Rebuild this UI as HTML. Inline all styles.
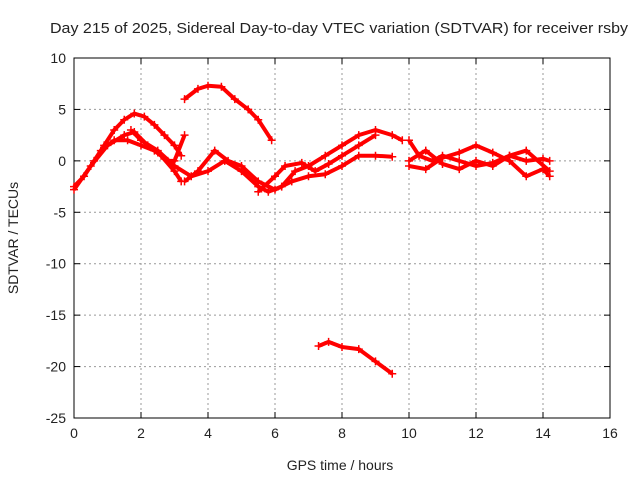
<!DOCTYPE html>
<html><head><meta charset="utf-8"><style>
body{margin:0;background:#fff;}
svg text{font-family:"Liberation Sans",sans-serif;font-size:14px;fill:#222;}
</style></head><body>
<svg id="chart" width="640" height="480" xmlns="http://www.w3.org/2000/svg">
<rect width="640" height="480" fill="#fff"/>
<text x="339" y="33" text-anchor="middle" textLength="578" lengthAdjust="spacingAndGlyphs" style="font-size:15px">Day 215 of 2025, Sidereal Day-to-day VTEC variation (SDTVAR) for receiver rsby</text>
<text x="340" y="470" text-anchor="middle">GPS time / hours</text>
<text x="18" y="238" text-anchor="middle" transform="rotate(-90 18 238)">SDTVAR / TECUs</text>
<g id="grid"></g>
<g id="axes"></g>
<g id="series"></g>
</svg>
<script>
const xTicks=[0,2,4,6,8,10,12,14,16];
const yTicks=[10,5,0,-5,-10,-15,-20,-25];
const trackA=[[0,-2.5],[0.3,-1.5],[0.6,0],[0.9,1.5],[1.2,3],[1.5,4],[1.8,4.6],[2.1,4.3],[2.4,3.5],[2.7,2.5],[3.0,1.5],[3.2,0.5]];
const trackB=[[0,-2.8],[0.5,-0.5],[1,1.5],[1.5,2.5],[1.8,2.8],[2.2,1.5],[2.6,0.5],[3,-1],[3.2,-2]];
const trackC=[[0.8,1],[1.2,2],[1.6,2],[2,1.5],[2.4,1],[2.8,0],[3,0],[3.3,2.5]];
const trackD=[[1.7,3],[2,2],[2.5,1],[3,-0.5],[3.5,-1.5],[4,-1],[4.5,0],[5,-1],[5.5,-2.5],[5.8,-3],[6.2,-2.5],[6.6,-1],[7,-0.5],[7.5,0.5],[8,1.5],[8.5,2.5],[9,3],[9.5,2.5],[9.8,2]];
const trackE=[[3.3,-2],[3.7,-1],[4.2,1],[4.6,0],[5,-0.5],[5.5,-2],[6,-2.8],[6.5,-2],[7,-1.5],[7.5,-1.3],[8,-0.5],[8.5,0.5],[9,0.5],[9.5,0.4]];
const trackF=[[3.3,6],[3.7,7],[4,7.3],[4.4,7.2],[4.8,6],[5.2,5],[5.5,4],[5.9,2]];
const trackG=[[5.5,-3],[6,-1.5],[6.3,-0.5],[6.8,-0.2],[7.2,-1],[7.6,-0.3],[8,0.5],[8.5,1.5],[9,2.5]];
const trackH=[[7.3,-18],[7.6,-17.6],[8,-18.1],[8.5,-18.3],[9,-19.5],[9.5,-20.7]];
const trackR1=[[10,2],[10.3,0.5],[10.7,0],[11,0.5],[11.5,0],[12,-0.5],[12.5,-0.2],[13,0.5],[13.5,0],[14,0.2],[14.2,0]];
const trackR2=[[10,-0.5],[10.5,-0.8],[11,0.3],[11.5,0.8],[12,1.5],[12.5,0.8],[13,0],[13.5,-1.5],[14,-0.8],[14.2,-1.5]];
const trackR3=[[10,0],[10.5,1],[11,-0.3],[11.5,-0.8],[12,0],[12.5,-0.5],[13,0.5],[13.5,1],[14.2,-1]];
const tracks=[trackA,trackB,trackC,trackD,trackE,trackF,trackG,trackH,trackR1,trackR2,trackR3];
const X0=74,X1=610,Y0=58,Y1=418;
const xs=t=>X0+(t-0)/(16-0)*(X1-X0);
const ys=v=>Y0+(10-v)/(10-(-25))*(Y1-Y0);
const NS="http://www.w3.org/2000/svg";
function mk(tag,attrs,parent){const e=document.createElementNS(NS,tag);for(const k in attrs)e.setAttribute(k,attrs[k]);parent.appendChild(e);return e;}
const grid=document.getElementById('grid'),axes=document.getElementById('axes'),ser=document.getElementById('series');
xTicks.forEach(t=>{const x=xs(t);
 if(t>0&&t<16){const l=mk('line',{x1:x,y1:Y0,x2:x,y2:Y1,stroke:'#999','stroke-dasharray':'2,3','stroke-width':1},grid);
 
 }
 mk('line',{x1:x,y1:Y1,x2:x,y2:Y1-6,stroke:'#000'},axes);mk('line',{x1:x,y1:Y0,x2:x,y2:Y0+6,stroke:'#000'},axes);
 const tx=mk('text',{x:x,y:Y1+20,'text-anchor':'middle'},axes);tx.textContent=t;
 
 });
yTicks.forEach(v=>{const y=ys(v);
 if(v<10&&v>-25){const l=mk('line',{x1:X0,y1:y,x2:X1,y2:y,stroke:'#999','stroke-dasharray':'2,3','stroke-width':1},grid);
 
 }
 mk('line',{x1:X0,y1:y,x2:X0+6,y2:y,stroke:'#000'},axes);mk('line',{x1:X1,y1:y,x2:X1-6,y2:y,stroke:'#000'},axes);
 const tx=mk('text',{x:X0-8,y:y+5,'text-anchor':'end'},axes);tx.textContent=v;
 
 });
mk('rect',{x:X0,y:Y0,width:X1-X0,height:Y1-Y0,fill:'none',stroke:'#000'},axes);
tracks.forEach(tr=>{
 const p=mk('polyline',{points:tr.map(d=>xs(d[0])+','+ys(d[1])).join(' '),fill:'none',stroke:'#f00','stroke-width':4,'stroke-linejoin':'round'},ser);
 
 
 tr.forEach(d=>{const x=xs(d[0]),y=ys(d[1]);
  const m=mk('path',{d:`M${x-4},${y}H${x+4}M${x},${y-4}V${y+4}`,stroke:'#f00','stroke-width':1.5},ser);
  
  });
});
</script>
</body></html>
